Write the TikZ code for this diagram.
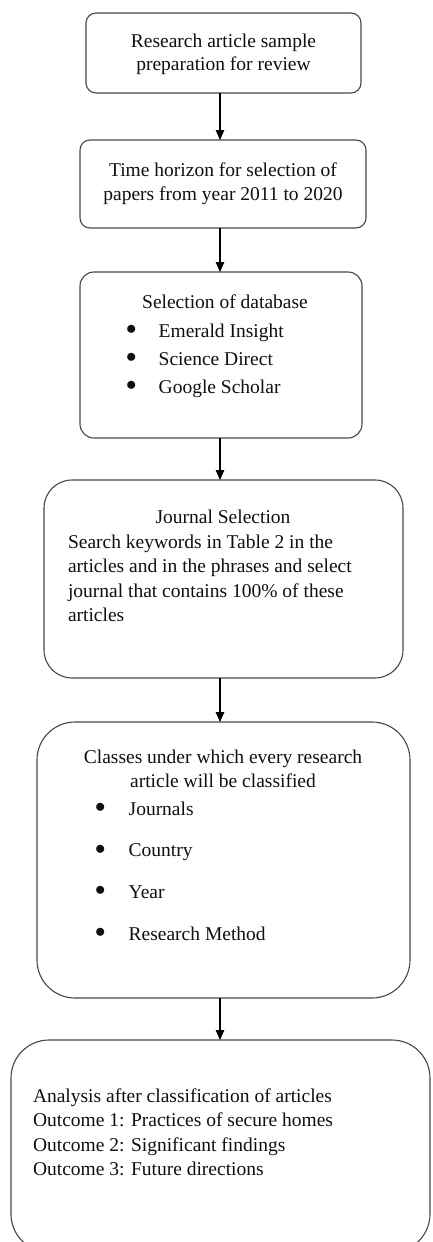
\documentclass[tikz,border=0pt]{standalone}
\usepackage{fontspec}
\usepackage{graphicx}
\setmainfont{Liberation Serif}
\usetikzlibrary{arrows.meta}

% round list mark, sized like the one in the source figure
\newcommand{\itemdot}{\raisebox{2.5pt}{$\bullet$}}

\begin{document}
\begin{tikzpicture}[
    x=1pt, y=-1pt,
    every node/.style={font=\fontsize{19.5}{24.5}\selectfont},
]

\definecolor{frame}{HTML}{474747}
\definecolor{ink}{HTML}{101010}

% ================================================================
%  Page is 432 x 1242, one unit = one pixel, y runs downwards.
%  Six stages stacked, arrows all on x = 220.
% ================================================================

\tikzset{
  stage/.style={draw=frame, line width=1.1pt, fill=white,
                inner sep=0pt, outer sep=0pt},
  txt/.style={inner sep=0pt, outer sep=0pt, text=ink},
  flow/.style={-{Triangle[length=10pt, width=8.5pt]}, line width=1.2pt,
               draw=black},
}

\useasboundingbox (0,0) rectangle (432,1242);
\fill[white] (0,0) rectangle (432,1242);

% ---------------------------------------------------------------- frames
\node[stage, rounded corners=10pt, minimum width=275pt, minimum height=80pt]
    (prep) at (223.5,53) {};
\node[stage, rounded corners=10pt, minimum width=286pt, minimum height=88pt]
    (horizon) at (223,184) {};
\node[stage, rounded corners=14pt, minimum width=282pt, minimum height=166pt]
    (database) at (221,355) {};
\node[stage, rounded corners=28pt, minimum width=359pt, minimum height=198pt]
    (journal) at (223.5,579) {};
\node[stage, rounded corners=38pt, minimum width=373pt, minimum height=276pt]
    (classes) at (223.5,860) {};
\node[stage, rounded corners=38pt, minimum width=419pt, minimum height=212pt]
    (analysis) at (220.5,1146) {};

% ---------------------------------------------------------------- texts
\node[txt, anchor=base] (prep-t) at (223.5,47)
    {\begin{tabular}[t]{@{}c@{}}Research article sample\\[-1.5pt]
     preparation for review\end{tabular}};

\node[txt, anchor=base] (horizon-t) at (223,176)
    {\begin{tabular}[t]{@{}c@{}}Time horizon for selection of\\
     papers from year 2011 to 2020\end{tabular}};

\node[txt, anchor=base] (database-h) at (225,308) {Selection of database};
\node[txt, anchor=base west] (database-t) at (126,337)
    {\begin{tabular}[t]{@{}l@{\hspace{22.3pt}}l@{}}
     \itemdot & Emerald Insight\\[3.5pt]
     \itemdot & Science Direct\\[3.5pt]
     \itemdot & Google Scholar\end{tabular}};

\node[txt, anchor=base] (journal-h) at (223,523) {Journal Selection};
\node[txt, anchor=base west] (journal-t) at (68,548)
    {\begin{tabular}[t]{@{}l@{}}Search keywords in Table 2 in the\\
     articles and in the phrases and select\\
     journal that contains 100\% of these\\
     articles\end{tabular}};

\node[txt, anchor=base] (classes-h) at (223,763)
    {\begin{tabular}[t]{@{}c@{}}Classes under which every research\\
     article will be classified\end{tabular}};
\node[txt, anchor=base west] (classes-t) at (95,815)
    {\begin{tabular}[t]{@{}l@{\hspace{23.3pt}}l@{}}
     \itemdot & Journals\\[17.2pt]
     \itemdot & Country\\[17.2pt]
     \itemdot & Year\\[17.2pt]
     \itemdot & Research Method\end{tabular}};

\node[txt, anchor=base west] (analysis-t) at (33,1102)
    {\begin{tabular}[t]{@{}l@{}}Analysis after classification of articles\\
     Outcome 1: Practices of secure homes\\
     Outcome 2: Significant findings\\
     Outcome 3: Future directions\end{tabular}};

% ---------------------------------------------------------------- arrows
\coordinate (axis) at (220,0);
\draw[flow] (prep.south -| axis) -- (horizon.north -| axis);
\draw[flow] (horizon.south -| axis) -- (database.north -| axis);
\draw[flow] (database.south -| axis) -- (journal.north -| axis);
\draw[flow] (journal.south -| axis) -- (classes.north -| axis);
\draw[flow] (classes.south -| axis) -- (analysis.north -| axis);

\end{tikzpicture}
\end{document}
